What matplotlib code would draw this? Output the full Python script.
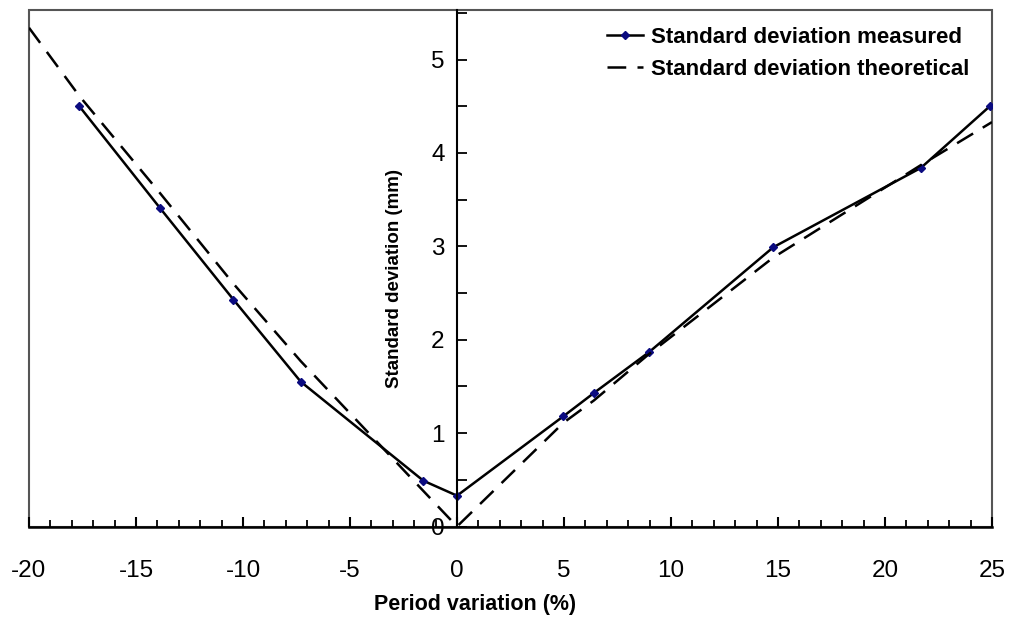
import matplotlib.pyplot as plt
from matplotlib.patches import Rectangle
from matplotlib.ticker import MultipleLocator

plt.rcParams['font.family'] = ['Liberation Sans', 'DejaVu Sans']
plt.rcParams['axes.unicode_minus'] = False

# measured standard deviation
x_meas = [-17.65, -13.88, -10.45, -7.30, -1.57, 0.0, 4.97, 6.40, 8.99, 14.78, 21.68, 24.9]
sd_meas = [4.50, 3.41, 2.43, 1.55, 0.49, 0.33, 1.18, 1.43, 1.87, 2.99, 3.84, 4.50]

# theoretical standard deviation
x_theo = [-20.0, -17.65, -13.88, -10.45, -7.30, -1.57, 0.0, 4.97, 6.40, 8.99, 14.78, 21.68, 25.0]
sd_theo = [5.34, 4.61, 3.57, 2.60, 1.77, 0.38, 0.0, 1.11, 1.35, 1.85, 2.88, 3.87, 4.33]

fig = plt.figure(figsize=(10.13, 6.18), dpi=100)
ax = fig.add_axes([29/1013, 91.5/618, 963/1013, 516.5/618])

ax.plot(x_meas, sd_meas, '-', color='black', lw=1.8, marker='D', ms=4.5,
        mfc='#0b0b80', mec='#0b0b80', label='Standard deviation measured')
ax.plot(x_theo, sd_theo, color='black', lw=1.8, dashes=(7.5, 4.5),
        label='Standard deviation theoretical')

ax.set_xlim(-20, 25)
ax.set_ylim(0, 5.53)

# frame around plot area
ax.add_patch(Rectangle((0, 0), 1, 1, transform=ax.transAxes, fill=False,
                       ec='#555555', lw=1.5, clip_on=False, zorder=0))
ax.spines['top'].set_visible(False)
ax.spines['right'].set_visible(False)
ax.spines['left'].set_position(('data', 0))
ax.spines['left'].set_linewidth(1.5)
ax.spines['bottom'].set_linewidth(1.8)

ax.xaxis.set_major_locator(MultipleLocator(5))
ax.xaxis.set_minor_locator(MultipleLocator(1))
ax.yaxis.set_major_locator(MultipleLocator(1))
ax.yaxis.set_minor_locator(MultipleLocator(0.5))

ax.tick_params(axis='x', which='major', direction='in', length=7, width=1.5,
               pad=24, labelsize=17.5)
ax.tick_params(axis='x', which='minor', direction='in', length=5, width=1.3)
ax.tick_params(axis='y', which='major', direction='in', length=7, width=1.3,
               pad=9, labelsize=17.5)
ax.tick_params(axis='y', which='minor', direction='in', length=7, width=1.3)

ax.set_xlabel('Period variation (%)', fontsize=15.5, fontweight='bold')
ax.xaxis.set_label_coords(0.463, -0.13)
ax.set_ylabel('Standard deviation (mm)', fontsize=13.5, fontweight='bold')
ax.yaxis.set_label_coords(0.388, 0.48)

ax.legend(loc='upper right', bbox_to_anchor=(0.997, 1.006), frameon=False,
          prop={'weight': 'bold', 'size': 16}, handlelength=1.6,
          handletextpad=0.35, labelspacing=0.5)

fig.savefig('out.png', dpi=100)
